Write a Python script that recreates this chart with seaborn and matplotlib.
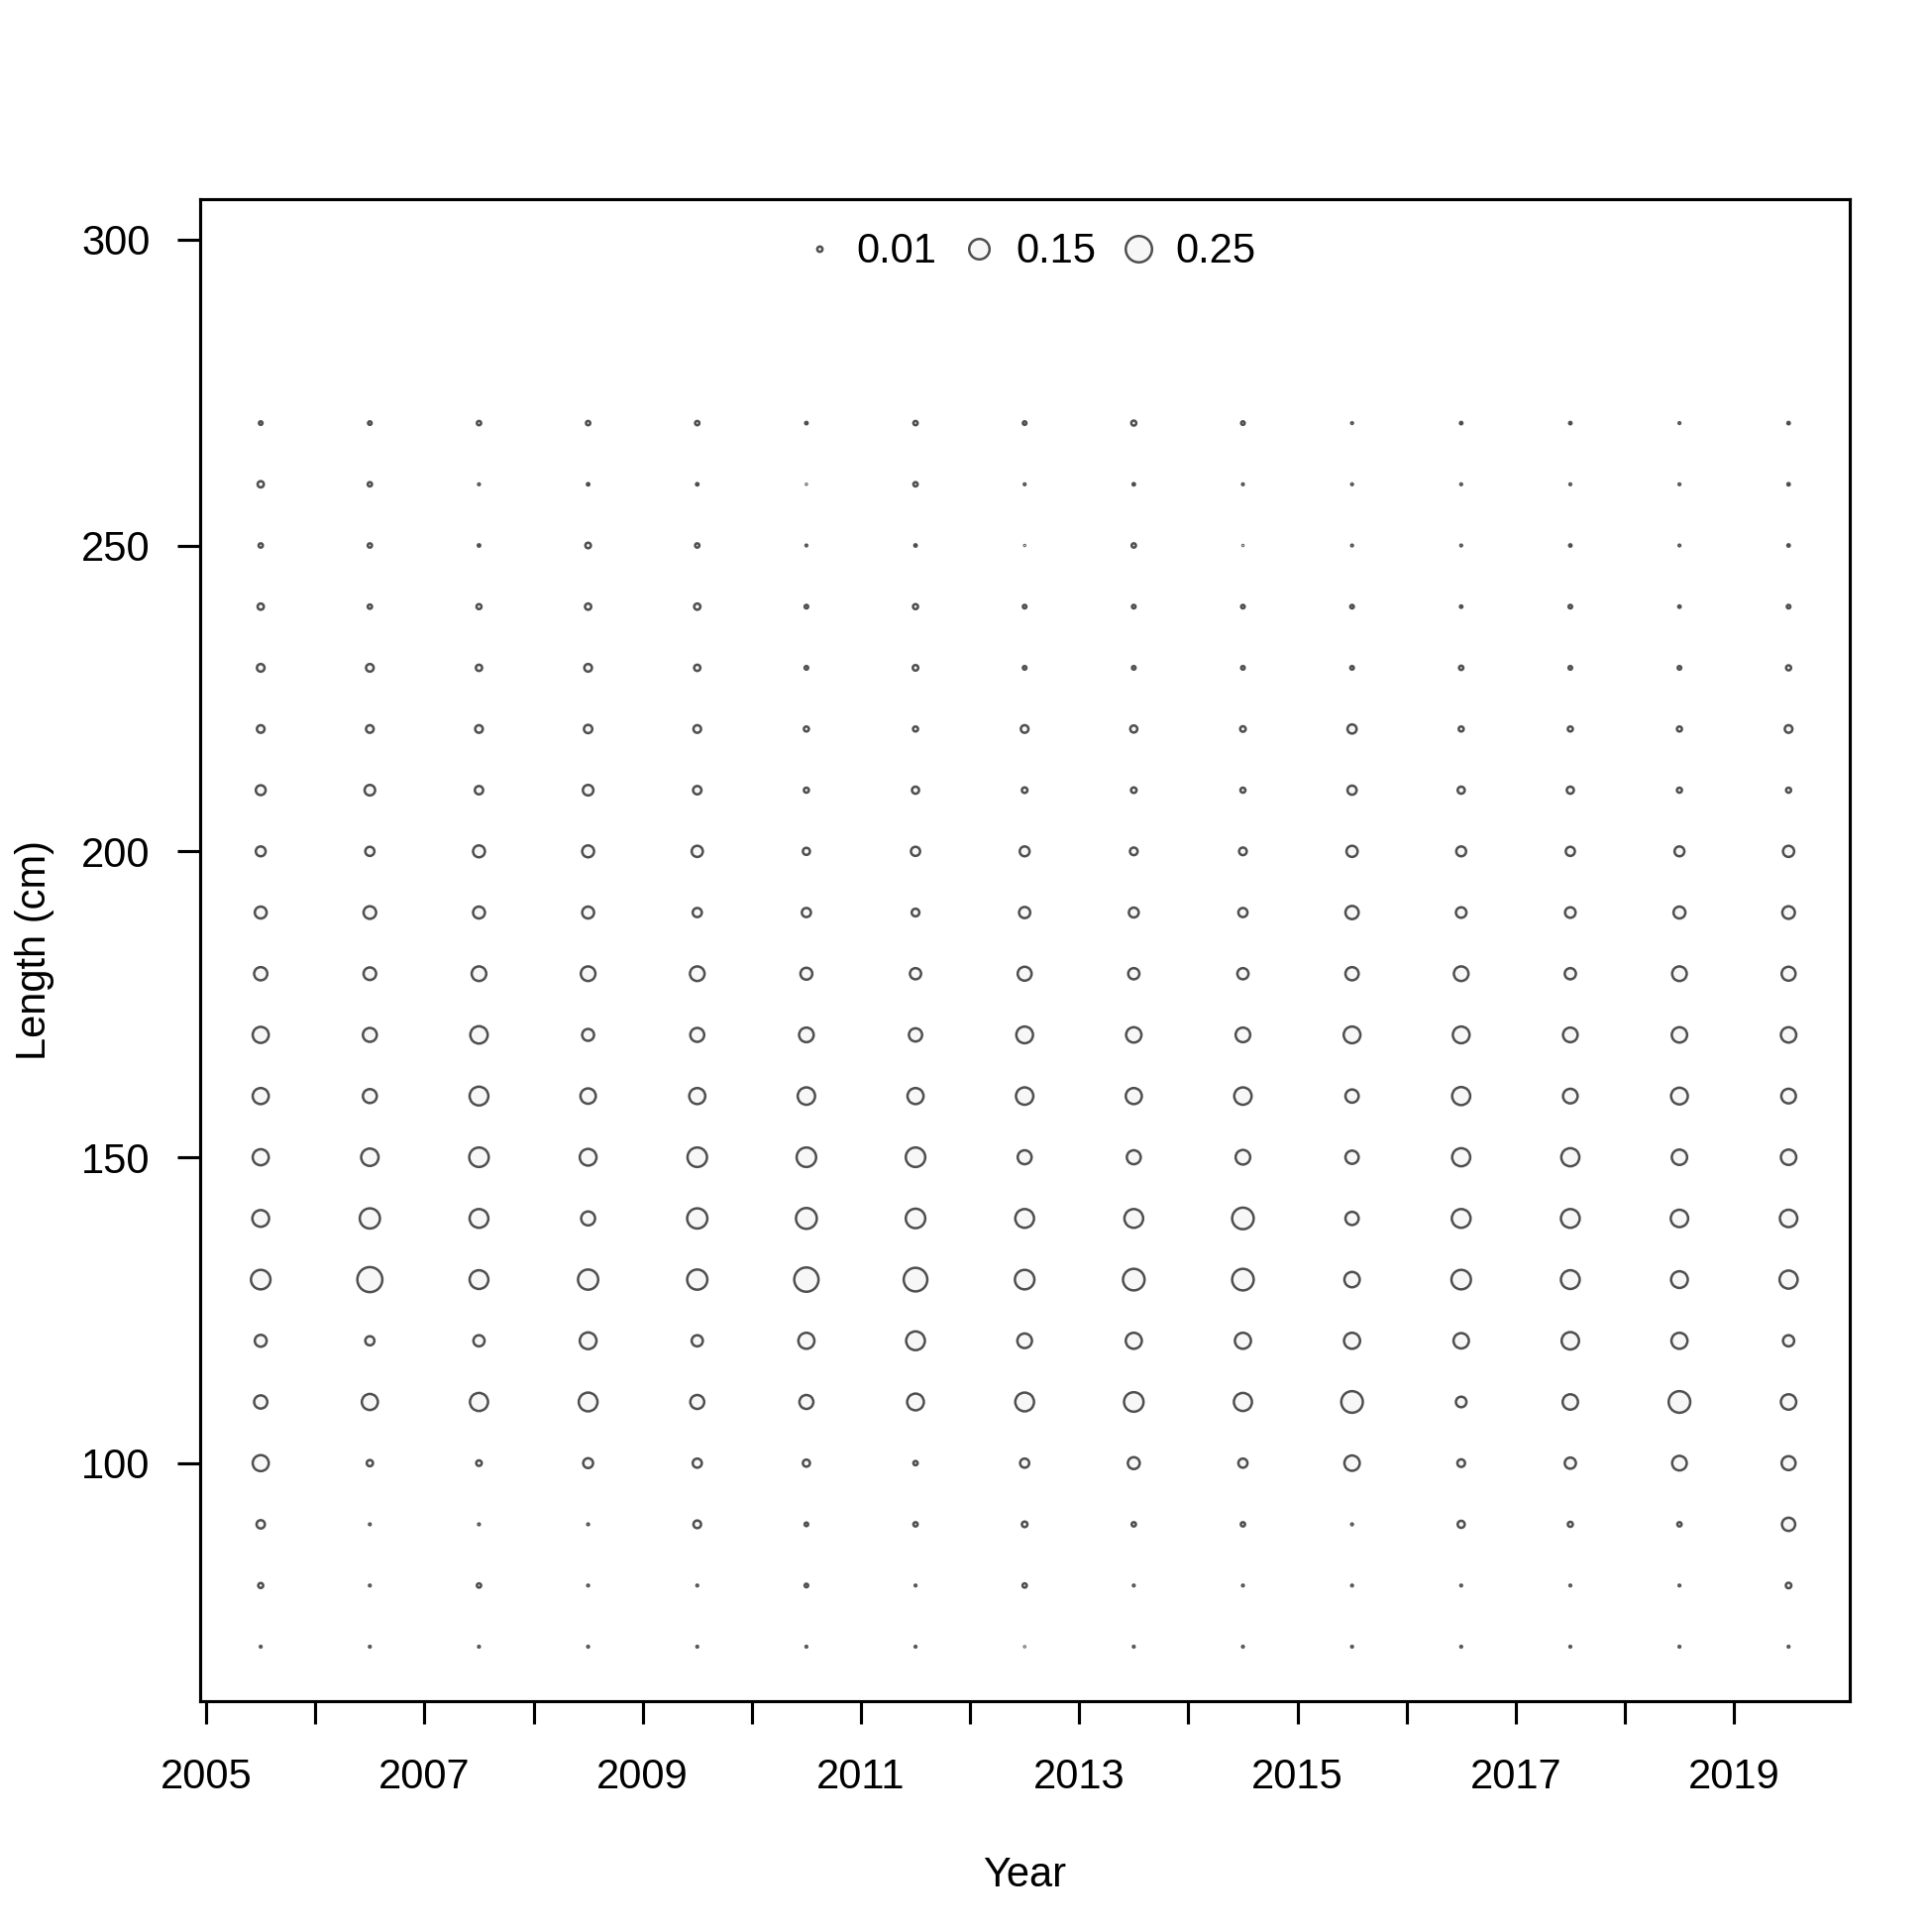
import matplotlib
matplotlib.use("Agg")
import matplotlib.pyplot as plt
from matplotlib.lines import Line2D
import numpy as np
import pandas as pd
import seaborn as sns

# --- data: proportion at length, one list per year (lengths 70..270) ---
lengths = [70, 80, 90, 100, 110, 120, 130, 140, 150, 160, 170,
           180, 190, 200, 210, 220, 230, 240, 250, 260, 270]
years = [2005.5, 2006.5, 2007.5, 2008.5, 2009.5, 2010.5, 2011.5, 2012.5,
         2013.5, 2014.5, 2015.5, 2016.5, 2017.5, 2018.5, 2019.5]

p2005 = [0.001, 0.009, 0.025, 0.093, 0.063, 0.051, 0.137, 0.101, 0.093, 0.093, 0.093,
         0.063, 0.051, 0.035, 0.035, 0.021, 0.021, 0.014, 0.0065, 0.014, 0.0045]
p2006 = [0.001, 0.001, 0.001, 0.014, 0.093, 0.030, 0.226, 0.147, 0.109, 0.070, 0.070,
         0.057, 0.057, 0.030, 0.040, 0.021, 0.021, 0.0065, 0.0065, 0.0065, 0.0045]
p2007 = [0.001, 0.0065, 0.001, 0.011, 0.118, 0.045, 0.127, 0.127, 0.137, 0.127, 0.109,
         0.077, 0.051, 0.051, 0.025, 0.021, 0.014, 0.009, 0.002, 0.001, 0.0065]
p2008 = [0.001, 0.001, 0.001, 0.035, 0.127, 0.101, 0.147, 0.070, 0.101, 0.085, 0.051,
         0.077, 0.051, 0.051, 0.040, 0.025, 0.021, 0.014, 0.011, 0.002, 0.0065]
p2009 = [0.001, 0.001, 0.021, 0.030, 0.070, 0.045, 0.147, 0.147, 0.137, 0.093, 0.070,
         0.077, 0.030, 0.045, 0.025, 0.021, 0.014, 0.014, 0.0065, 0.002, 0.0065]
p2010 = [0.001, 0.0045, 0.0045, 0.018, 0.070, 0.093, 0.213, 0.157, 0.137, 0.109, 0.077,
         0.051, 0.030, 0.018, 0.009, 0.009, 0.0045, 0.0045, 0.001, 0.0003, 0.002]
p2011 = [0.001, 0.001, 0.0065, 0.0065, 0.101, 0.127, 0.201, 0.137, 0.137, 0.093, 0.063,
         0.045, 0.021, 0.030, 0.018, 0.009, 0.011, 0.009, 0.002, 0.0065, 0.0065]
p2012 = [0.0003, 0.0065, 0.011, 0.030, 0.127, 0.077, 0.137, 0.127, 0.070, 0.109, 0.101,
         0.070, 0.045, 0.035, 0.011, 0.021, 0.0045, 0.0045, 0.0003, 0.001, 0.0045]
p2013 = [0.001, 0.001, 0.0065, 0.051, 0.137, 0.093, 0.168, 0.127, 0.070, 0.093, 0.085,
         0.045, 0.035, 0.021, 0.011, 0.018, 0.0045, 0.0045, 0.0065, 0.002, 0.009]
p2014 = [0.001, 0.001, 0.0065, 0.030, 0.118, 0.093, 0.168, 0.168, 0.077, 0.109, 0.077,
         0.045, 0.030, 0.021, 0.009, 0.011, 0.0045, 0.0045, 0.0003, 0.001, 0.0045]
p2015 = [0.001, 0.001, 0.001, 0.085, 0.168, 0.093, 0.085, 0.063, 0.063, 0.063, 0.101,
         0.063, 0.063, 0.045, 0.030, 0.030, 0.0045, 0.0045, 0.001, 0.001, 0.001]
p2016 = [0.001, 0.001, 0.018, 0.021, 0.040, 0.085, 0.137, 0.127, 0.118, 0.118, 0.101,
         0.077, 0.040, 0.035, 0.018, 0.009, 0.0065, 0.002, 0.001, 0.001, 0.002]
p2017 = [0.001, 0.001, 0.009, 0.045, 0.085, 0.109, 0.127, 0.127, 0.118, 0.077, 0.077,
         0.045, 0.040, 0.030, 0.018, 0.009, 0.0045, 0.0045, 0.002, 0.001, 0.002]
p2018 = [0.001, 0.001, 0.0065, 0.077, 0.168, 0.093, 0.101, 0.109, 0.085, 0.101, 0.085,
         0.077, 0.051, 0.035, 0.009, 0.009, 0.0045, 0.002, 0.001, 0.001, 0.001]
p2019 = [0.001, 0.011, 0.063, 0.070, 0.085, 0.045, 0.118, 0.109, 0.085, 0.077, 0.085,
         0.070, 0.057, 0.045, 0.009, 0.021, 0.009, 0.0045, 0.002, 0.002, 0.002]

legend_values = [0.01, 0.15, 0.25]

# --- build long table ---
props = [p2005, p2006, p2007, p2008, p2009, p2010, p2011, p2012,
         p2013, p2014, p2015, p2016, p2017, p2018, p2019]
df = pd.DataFrame({
    "Year": np.repeat(years, len(lengths)),
    "Length": np.tile(lengths, len(years)),
    "Prop": np.concatenate(props),
})

# --- style ---
sns.set_style("ticks")
plt.rcParams["font.family"] = ["Liberation Sans", "DejaVu Sans"]
plt.rcParams["font.size"] = 10
plt.rcParams["text.color"] = "black"
plt.rcParams["axes.labelcolor"] = "black"

edge = "#4f4f4f"
face = "#f7f7f7"
area_scale = 162.0  # marker area (pt^2) per unit proportion
ring_lw = 0.6

fig = plt.figure(figsize=(6.5, 6.5), dpi=300)
ax = fig.add_axes([0.1036, 0.1195, 0.8538, 0.7774])

sns.scatterplot(data=df, x="Year", y="Length", size="Prop",
                sizes=(0, area_scale), size_norm=(0, 1),
                color=face, edgecolor=edge, linewidth=ring_lw,
                legend=False, ax=ax, zorder=3)

ax.set_xlim(2004.945, 2020.06)
ax.set_ylim(61.1, 306.6)
ax.set_xticks(range(2005, 2020))
ax.set_xticklabels([str(y) if y % 2 == 1 else "" for y in range(2005, 2020)])
ax.set_yticks([100, 150, 200, 250, 300])

for s in ax.spines.values():
    s.set_visible(True)
    s.set_linewidth(0.75)
    s.set_color("black")
ax.tick_params(axis="both", direction="out", length=5.6, width=0.75,
               colors="black", labelsize=10)
ax.tick_params(axis="x", pad=8)
ax.tick_params(axis="y", pad=6.5)

ax.set_xlabel("Year", fontsize=10, color="black")
ax.set_ylabel("Length (cm)", fontsize=10, color="black")
ax.xaxis.set_label_coords(0.5, -0.116)
ax.xaxis.label.set_va("center")
ax.yaxis.set_label_coords(-0.1005, 0.5)
ax.yaxis.label.set_va("center")

handles = [Line2D([], [], linestyle="none", marker="o",
                  markersize=np.sqrt(area_scale * v),
                  markerfacecolor=face, markeredgecolor=edge,
                  markeredgewidth=ring_lw) for v in legend_values]
leg = ax.legend(handles, [f"{v:.2f}" for v in legend_values], ncol=3,
                loc="center", bbox_to_anchor=(0.504, 0.965), frameon=False,
                handlelength=0.6, handletextpad=0.61, columnspacing=0.71,
                fontsize=10, borderaxespad=0)
for t in leg.get_texts():
    t.set_color("black")

plt.savefig("out.png", dpi=300)
